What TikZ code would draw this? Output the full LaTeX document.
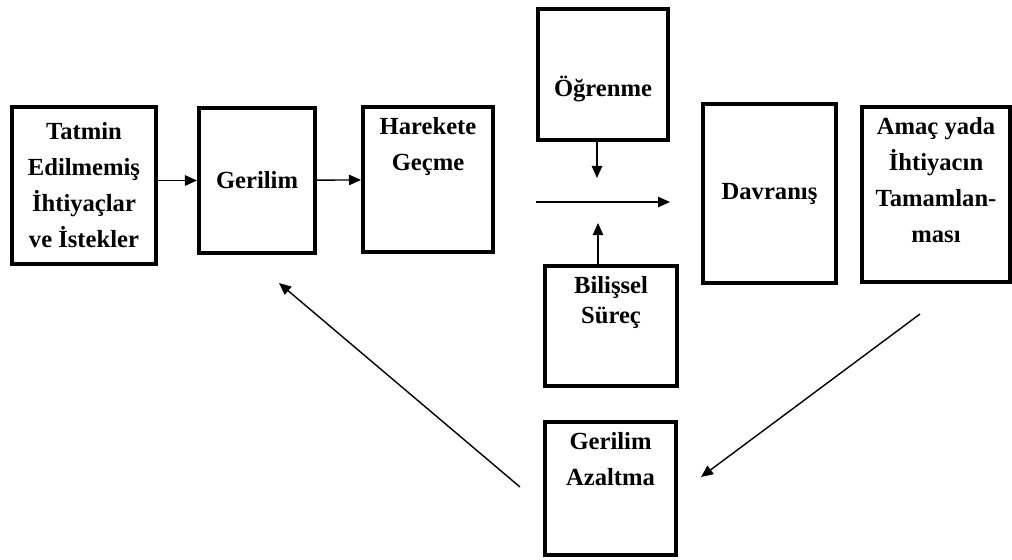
\documentclass[tikz,border=0pt]{standalone}
\usepackage{fontspec}
\setmainfont{Liberation Serif}
\usetikzlibrary{arrows.meta,positioning}

\begin{document}
\begin{tikzpicture}[x=0.025cm,y=-0.025cm,
  yazi/.style={font=\bfseries\fontsize{17.5}{25.6}\selectfont,align=center,inner sep=0pt},
  n/.style={draw,line width=0.1cm,yazi},
  toptext/.style={label={[yazi,anchor=north,yshift=-0.3cm]north:#1}},
  midtext/.style={label={[yazi,yshift=-0.35cm]center:#1}},
  ar/.style={-{Triangle[length=3mm,width=2.6mm]},line width=1pt}]
\useasboundingbox (0,0) rectangle (1012,559);
\node[n,minimum width=3.6cm,minimum height=3.925cm] (tat) at (84,185.5) {Tatmin\\Edilmemiş\\İhtiyaçlar\\ve İstekler};
\node[n,minimum width=2.9cm,minimum height=3.625cm] (ger) at (257,180.5) {Gerilim};
\node[n,minimum width=3.25cm,minimum height=3.625cm,toptext={Harekete\\Geçme}] (har) at (428,179.5) {};
\node[n,minimum width=3.25cm,minimum height=3.275cm,midtext={Öğrenme}] (ogr) at (603,74.5) {};
\node[n,minimum width=3.3cm,minimum height=3cm,toptext={Bilişsel\\[-0.15cm]Süreç}] (bil) at (611,326) {};
\node[n,minimum width=3.325cm,minimum height=4.475cm] (dav) at (769.5,193.5) {Davranış};
\node[n,minimum width=3.7cm,minimum height=4.375cm,toptext={Amaç yada\\İhtiyacın\\Tamamlan-\\ması}] (ama) at (936,194.5) {};
\node[n,minimum width=3.275cm,minimum height=3.325cm,toptext={Gerilim\\Azaltma}] (gaz) at (610.5,488.5) {};
% serbest uclar
\coordinate (akIn) at (536,202); \coordinate (akOut) at (670,202);
\coordinate (ogrUc) at (597,178); \coordinate (bilUc) at (598,223);
\coordinate (geriKuyruk) at (520,487); \coordinate (geriUc) at (279,283);
\coordinate (azKuyruk) at (920,314); \coordinate (azUc) at (701,477);
\draw[ar] (tat.east|-ger.west) -- (ger.west);
\draw[ar] (ger) -- (har);
\draw[ar] (akIn) -- (akOut);
\draw[ar] (ogr.south-|ogrUc) -- (ogrUc);
\draw[ar] (bil.north-|bilUc) -- (bilUc);
\draw[ar] (geriKuyruk) -- (geriUc);
\draw[ar] (azKuyruk) -- (azUc);
\end{tikzpicture}
\end{document}
